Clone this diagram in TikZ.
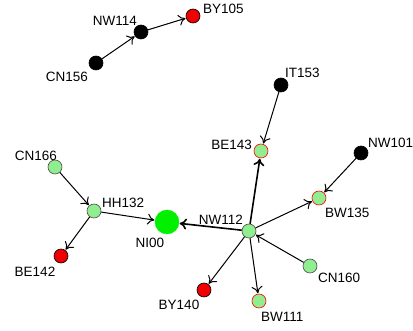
\documentclass[tikz,border=0pt]{standalone}
\usepackage{fontspec}
\setmainfont{Liberation Sans}
\usetikzlibrary{arrows.meta}

\definecolor{ltgreen}{RGB}{144,238,144}
\definecolor{brgreen}{RGB}{0,240,0}
\definecolor{nodered}{RGB}{240,0,0}

\tikzset{
  pt/.style={circle, draw=black, minimum size=14pt, inner sep=0pt, line width=0.6pt},
  ptblack/.style={pt, fill=black},
  ptred/.style={pt, fill=nodered},
  ptgreen/.style={pt, fill=ltgreen, draw=black!70},
  ptmark/.style={pt, fill=ltgreen, draw=red},
  ptmain/.style={circle, fill=brgreen, draw=brgreen, minimum size=24pt, inner sep=0pt},
  lbl/.style={font=\fontsize{13.5}{15}\selectfont, inner sep=0pt},
  link/.style={-{To[length=7pt,width=11pt]}, line width=1pt, shorten >=0.5pt},
  biglink/.style={link, line width=1.6pt}
}

\begin{document}
\begin{tikzpicture}[x=1pt, y=-1pt]
			\useasboundingbox (0,0) rectangle (413,331);

			\node[ptred] (BY105) at (193, 16) {};
			\node[ptblack] (NW114) at (141, 32) {};
			\node[ptblack] (CN156) at (96, 63) {};

			\node[ptgreen] (CN166) at (55, 167) {};
			\node[ptgreen] (HH132) at (94, 211) {};
			\node[ptmain] (NI00) at (167, 222) {};
			\node[ptred] (BE142) at (61, 256) {};

			\node[ptblack] (IT153) at (281, 85) {};
			\node[ptmark] (BE143) at (261, 151) {};
			\node[ptblack] (NW101) at (361, 153) {};
			\node[ptmark] (BW135) at (319, 198) {};
			\node[ptgreen] (NW112) at (249, 231) {};
			\node[ptgreen] (CN160) at (310, 266) {};
			\node[ptred] (BY140) at (204, 290) {};
			\node[ptmark] (BW111) at (259, 301) {};

			\node[lbl, anchor=west] (tBY105) at (203, 9) {BY105};
			\node[lbl, anchor=east] (tNW114) at (137, 21) {NW114};
			\node[lbl, anchor=east] (tCN156) at (88, 77) {CN156};
			\node[lbl, anchor=east] (tCN166) at (57, 156) {CN166};
			\node[lbl, anchor=west] (tHH132) at (102, 203) {HH132};
			\node[lbl] (tNI00) at (150, 243) {NI00};
			\node[lbl] (tBE142) at (35, 272) {BE142};
			\node[lbl, anchor=west] (tIT153) at (285, 73) {IT153};
			\node[lbl, anchor=east] (tBE143) at (252, 145) {BE143};
			\node[lbl, anchor=west] (tNW101) at (368, 143) {NW101};
			\node[lbl, anchor=west] (tBW135) at (325, 213) {BW135};
			\node[lbl, anchor=east] (tNW112) at (243, 220) {NW112};
			\node[lbl, anchor=west] (tCN160) at (318, 278) {CN160};
			\node[lbl] (tBY140) at (179, 305) {BY140};
			\node[lbl, anchor=west] (tBW111) at (261, 317) {BW111};

			\draw[link] (CN156) -- (NW114);
			\draw[link] (NW114) -- (BY105);

			\draw[link] (CN166) -- (HH132);
			\draw[link] (HH132) -- (NI00);
			\draw[link] (HH132) -- (BE142);

			\draw[link] (IT153) -- (BE143);
			\draw[link] (NW101) -- (BW135);
			\draw[biglink] (NW112) -- (NI00);
			\draw[biglink] (NW112) -- (BE143);
			\draw[link] (NW112) -- (BW135);
			\draw[link] (CN160) -- (NW112);
			\draw[link] (NW112) -- (BY140);
			\draw[link] (NW112) -- (BW111);

		\end{tikzpicture}
\end{document}
